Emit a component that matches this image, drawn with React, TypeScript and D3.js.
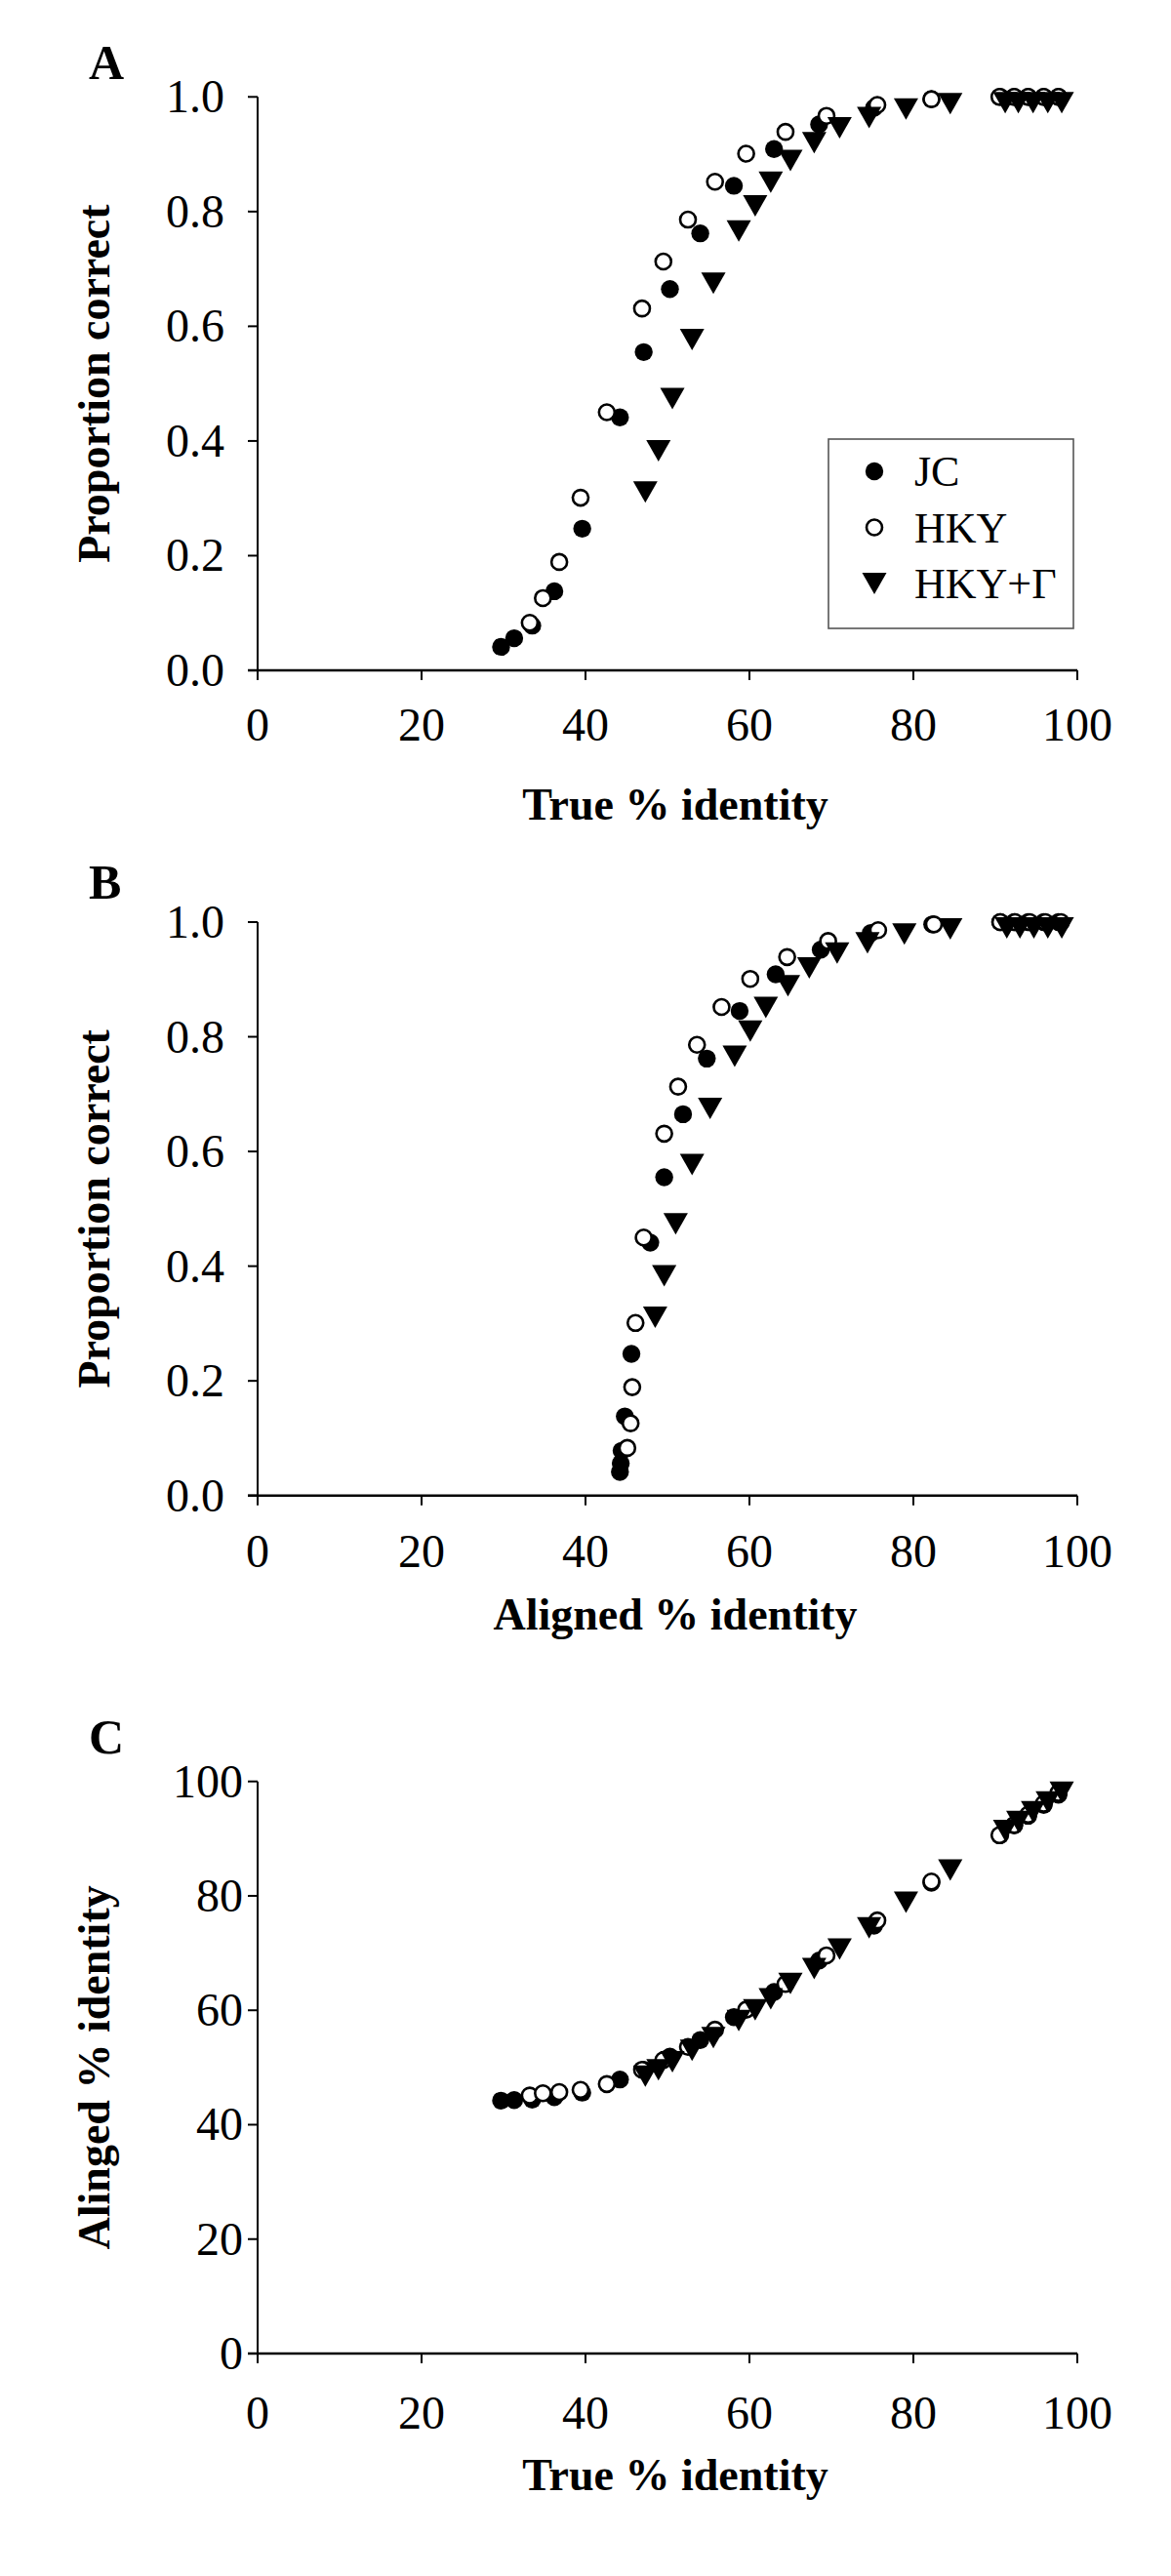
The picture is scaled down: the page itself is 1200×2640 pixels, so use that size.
import React from "react";
import * as d3 from "d3";

// ---- Data ----
// Each series: true % identity, aligned % identity, proportion correct
const jcTrue = [29.7, 31.3, 33.5, 36.2, 39.6, 44.2, 47.1, 50.3, 54.0, 58.1, 63.0, 68.5, 75.2, 82.2, 90.6, 92.3, 94.0, 95.9, 97.7];
const jcAligned = [44.2, 44.3, 44.4, 44.8, 45.6, 47.9, 49.6, 51.9, 54.8, 58.8, 63.2, 68.7, 74.8, 82.3, 90.6, 92.3, 94.0, 95.9, 97.7];
const jcProp = [0.041, 0.056, 0.078, 0.138, 0.247, 0.441, 0.555, 0.665, 0.762, 0.845, 0.909, 0.952, 0.981, 0.996, 1.0, 1.0, 1.0, 1.0, 1.0];

const hkyTrue = [33.2, 34.8, 36.8, 39.4, 42.6, 46.9, 49.5, 52.5, 55.8, 59.6, 64.4, 69.4, 75.6, 82.2, 90.5, 92.3, 94.0, 95.9, 97.7];
const hkyAligned = [45.1, 45.5, 45.7, 46.1, 47.1, 49.6, 51.3, 53.6, 56.6, 60.1, 64.6, 69.6, 75.7, 82.5, 90.6, 92.4, 94.2, 96.1, 98.0];
const hkyProp = [0.083, 0.126, 0.189, 0.301, 0.45, 0.631, 0.713, 0.786, 0.852, 0.901, 0.939, 0.967, 0.986, 0.996, 1.0, 1.0, 1.0, 1.0, 1.0];

const hkygTrue = [47.3, 48.9, 50.6, 53.0, 55.6, 58.7, 60.7, 62.6, 65.0, 67.9, 71.0, 74.6, 79.1, 84.5, 91.2, 92.8, 94.6, 96.4, 98.1];
const hkygAligned = [48.5, 49.6, 51.0, 53.0, 55.2, 58.2, 60.1, 62.0, 64.7, 67.3, 70.7, 74.4, 78.9, 84.5, 91.4, 93.0, 94.7, 96.4, 98.1];
const hkygProp = [0.311, 0.383, 0.474, 0.577, 0.675, 0.766, 0.81, 0.851, 0.889, 0.92, 0.946, 0.964, 0.979, 0.988, 0.99, 0.99, 0.99, 0.99, 0.99];

const seriesNames = ["JC", "HKY", "HKY+\u0393"];
const xTicks = [0, 20, 40, 60, 80, 100];
const propTicks = [0, 0.2, 0.4, 0.6, 0.8, 1.0];
const pctTicks = [0, 20, 40, 60, 80, 100];

const FONT = "'Liberation Serif', 'Times New Roman', serif";

type Kind = "filled" | "open" | "tri";

function Marker({ kind, x, y }: { kind: Kind; x: number; y: number }) {
  if (kind === "filled") return <circle cx={x} cy={y} r={9.2} fill="#000" />;
  if (kind === "open") return <circle cx={x} cy={y} r={8} fill="#fff" stroke="#000" strokeWidth={2.6} />;
  const w = 12.5, h = 11;
  return <path d={`M${x - w},${y - h}L${x + w},${y - h}L${x},${y + h}Z`} fill="#000" />;
}

type PanelProps = {
  letter: string;
  top: number;
  bottom: number;
  letterY: number;
  yDomain: [number, number];
  yTicks: number[];
  yFmt: (v: number) => string;
  yTitle: string;
  xTitle: string;
  xTitleY: number;
  xLabelOffset: number;
  yLabelRight: number;
  series: { kind: Kind; xs: number[]; ys: number[] }[];
  legend?: boolean;
};

const LEFT = 264;
const RIGHT = 1104;

function Panel(p: PanelProps) {
  const x = d3.scaleLinear().domain([0, 100]).range([LEFT, RIGHT]);
  const y = d3.scaleLinear().domain(p.yDomain).range([p.bottom, p.top]);
  const midY = (p.top + p.bottom) / 2;
  return (
    <g>
      <text x={91} y={p.letterY} fontFamily={FONT} fontWeight="bold" fontSize={50}>{p.letter}</text>
      {/* axes */}
      <line x1={LEFT} x2={LEFT} y1={p.top} y2={p.bottom} stroke="#000" strokeWidth={2} />
      <line x1={LEFT - 10} x2={RIGHT} y1={p.bottom} y2={p.bottom} stroke="#000" strokeWidth={2.4} />
      {p.yTicks.map((t) => (
        <g key={"y" + t}>
          <line x1={LEFT - 10} x2={LEFT} y1={y(t)} y2={y(t)} stroke="#000" strokeWidth={2} />
          <text x={p.yLabelRight} y={y(t) + 16} textAnchor="end" fontFamily={FONT} fontSize={48}>{p.yFmt(t)}</text>
        </g>
      ))}
      {xTicks.map((t) => (
        <g key={"x" + t}>
          <line x1={x(t)} x2={x(t)} y1={p.bottom} y2={p.bottom + 10} stroke="#000" strokeWidth={2} />
          <text x={x(t)} y={p.bottom + p.xLabelOffset} textAnchor="middle" fontFamily={FONT} fontSize={48}>{t}</text>
        </g>
      ))}
      <text
        transform={`translate(112,${midY}) rotate(-90)`}
        textAnchor="middle"
        fontFamily={FONT}
        fontWeight="bold"
        fontSize={46}
      >
        {p.yTitle}
      </text>
      <text x={692} y={p.xTitleY} textAnchor="middle" fontFamily={FONT} fontWeight="bold" fontSize={46}>{p.xTitle}</text>
      {p.series.map((s, si) => (
        <g key={"s" + si}>
          {s.xs.map((v, i) => (
            <Marker key={i} kind={s.kind} x={x(v)} y={y(s.ys[i])} />
          ))}
        </g>
      ))}
      {p.legend && (
        <g>
          <rect x={849} y={450} width={251} height={194} fill="#fff" stroke="#555" strokeWidth={1.6} />
          {(["filled", "open", "tri"] as Kind[]).map((k, i) => (
            <g key={k}>
              <Marker kind={k} x={896} y={483 + i * 57.5} />
              <text x={937} y={483 + i * 57.5 + 15} fontFamily={FONT} fontSize={44}>{seriesNames[i]}</text>
            </g>
          ))}
        </g>
      )}
    </g>
  );
}

export default function App() {
  const propFmt = d3.format(".1f");
  const intFmt = d3.format("d");
  return (
    <svg
      width={1200}
      height={2640}
      viewBox="0 0 1200 2640"
      style={{ position: "absolute", left: 0, top: 0, display: "block", background: "#fff" }}
    >
      <rect x={0} y={0} width={1200} height={2640} fill="#fff" />
      <Panel
        letter="A"
        top={99.3}
        bottom={687}
        letterY={81}
        yDomain={[0, 1]}
        yTicks={propTicks}
        yFmt={propFmt}
        yTitle="Proportion correct"
        xTitle="True % identity"
        xTitleY={840}
        xLabelOffset={72}
        yLabelRight={230}
        legend
        series={[
          { kind: "filled", xs: jcTrue, ys: jcProp },
          { kind: "open", xs: hkyTrue, ys: hkyProp },
          { kind: "tri", xs: hkygTrue, ys: hkygProp },
        ]}
      />
      <Panel
        letter="B"
        top={945}
        bottom={1532.7}
        letterY={921}
        yDomain={[0, 1]}
        yTicks={propTicks}
        yFmt={propFmt}
        yTitle="Proportion correct"
        xTitle="Aligned % identity"
        xTitleY={1670}
        xLabelOffset={73}
        yLabelRight={230}
        series={[
          { kind: "filled", xs: jcAligned, ys: jcProp },
          { kind: "open", xs: hkyAligned, ys: hkyProp },
          { kind: "tri", xs: hkygAligned, ys: hkygProp },
        ]}
      />
      <Panel
        letter="C"
        top={1825.7}
        bottom={2412}
        letterY={1797}
        yDomain={[0, 100]}
        yTicks={pctTicks}
        yFmt={intFmt}
        yTitle="Alinged % identity"
        xTitle="True % identity"
        xTitleY={2552}
        xLabelOffset={77}
        yLabelRight={249}
        series={[
          { kind: "filled", xs: jcTrue, ys: jcAligned },
          { kind: "open", xs: hkyTrue, ys: hkyAligned },
          { kind: "tri", xs: hkygTrue, ys: hkygAligned },
        ]}
      />
    </svg>
  );
}
